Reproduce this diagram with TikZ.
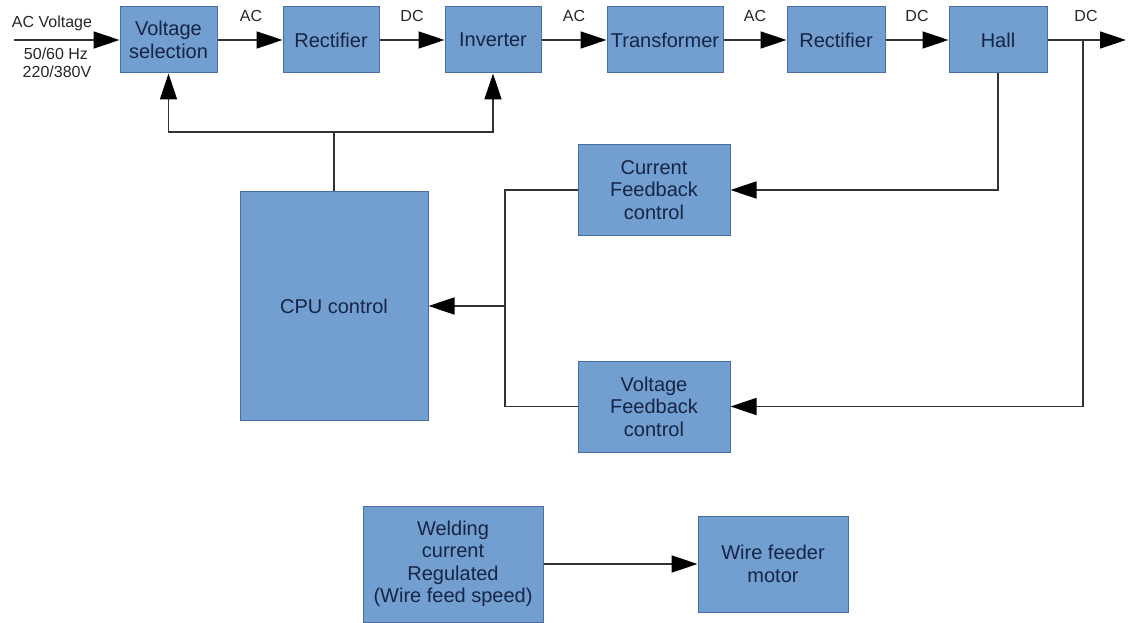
\documentclass[tikz,border=0pt]{standalone}
\usepackage{fontspec}
\setmainfont{Liberation Sans}
\usepackage{xcolor}
\usetikzlibrary{arrows.meta, positioning}
\definecolor{boxfill}{RGB}{114, 159, 207}
\definecolor{boxline}{RGB}{74, 110, 160}
\definecolor{boxtext}{RGB}{22, 36, 70}
\definecolor{wirecol}{RGB}{50, 50, 50}

\begin{document}
\begin{tikzpicture}[
    x=1pt, y=-1pt,
    blk/.style={draw=boxline, fill=boxfill, text=boxtext, line width=1pt,
        font=\fontsize{20}{22.5}\selectfont, align=center, inner sep=0pt},
    lbl/.style={font=\fontsize{16}{18}\selectfont, text=black!85, anchor=base},
    wire/.style={line width=1.5pt, draw=wirecol},
    flow/.style={wire, -{Triangle[length=26pt, width=17pt, color=black]}}
]
\useasboundingbox (0,0) rectangle (1133,623);

% Power chain
\node[blk, minimum width=97pt, minimum height=66pt] (vsel) at (168.5,40) {Voltage\\selection};
\node[blk, minimum width=96pt, minimum height=66pt] (rectA) at (331,40) {Rectifier};
\node[blk, minimum width=96pt, minimum height=66pt] (inv) at (493,40) {Inverter};
\node[blk, minimum width=116pt, minimum height=66pt] (trafo) at (665,40) {Transformer};
\node[blk, minimum width=98pt, minimum height=66pt] (rectB) at (836,40) {Rectifier};
\node[blk, minimum width=98pt, minimum height=66pt] (hall) at (998,40) {Hall};

% Control blocks
\node[blk, minimum width=152pt, minimum height=90pt] (curfb) at (654,190) {Current\\Feedback\\control};
\node[blk, minimum width=152pt, minimum height=91pt] (volfb) at (654,406.5) {Voltage\\Feedback\\control};
\node[blk, minimum width=188pt, minimum height=228pt] (cpu) at (334,306) {CPU control};

% Wire feed
\node[blk, minimum width=180pt, minimum height=116pt] (weld) at (453,564) {Welding\\current\\Regulated\\(Wire feed speed)};
\node[blk, minimum width=150pt, minimum height=96pt] (feeder) at (773,564) {Wire feeder\\motor};

% Junctions
\coordinate (acin) at (14,40);
\coordinate (dcout) at (1126,40);
\coordinate (tap) at (1083,40);
\coordinate (hub) at (505,306);
\coordinate (split) at (334,132);

% Main flow
\draw[flow] (acin) -- (vsel);
\draw[flow] (vsel) -- (rectA);
\draw[flow] (rectA) -- (inv);
\draw[flow] (inv) -- (trafo);
\draw[flow] (trafo) -- (rectB);
\draw[flow] (rectB) -- (hall);
\draw[flow] (hall) -- (dcout);

% Feedback
\draw[flow] (hall.south) |- (curfb.east);
\draw[flow] (tap) |- (volfb.east);
\draw[wire] (curfb.west) -| (hub) |- (volfb.west);
\draw[flow] (hub) -- (cpu.east);
\draw[wire] (cpu.north) -- (split);
\draw[flow] (split) -| (vsel.south);
\draw[flow] (split) -| (inv.south);
\draw[flow] (weld) -- (feeder);

% Labels
\node[lbl] (lvin) at (52,28) {AC Voltage};
\node[lbl] (lfreq) at (56,60) {50/60 Hz};
\node[lbl] (lmains) at (57,78) {220/380V};
\node[lbl] (l1) at (251,22) {AC};
\node[lbl] (l2) at (412,22) {DC};
\node[lbl] (l3) at (574,22) {AC};
\node[lbl] (l4) at (755,22) {AC};
\node[lbl] (l5) at (917,22) {DC};
\node[lbl] (l6) at (1086,22) {DC};

\end{tikzpicture}
\end{document}
